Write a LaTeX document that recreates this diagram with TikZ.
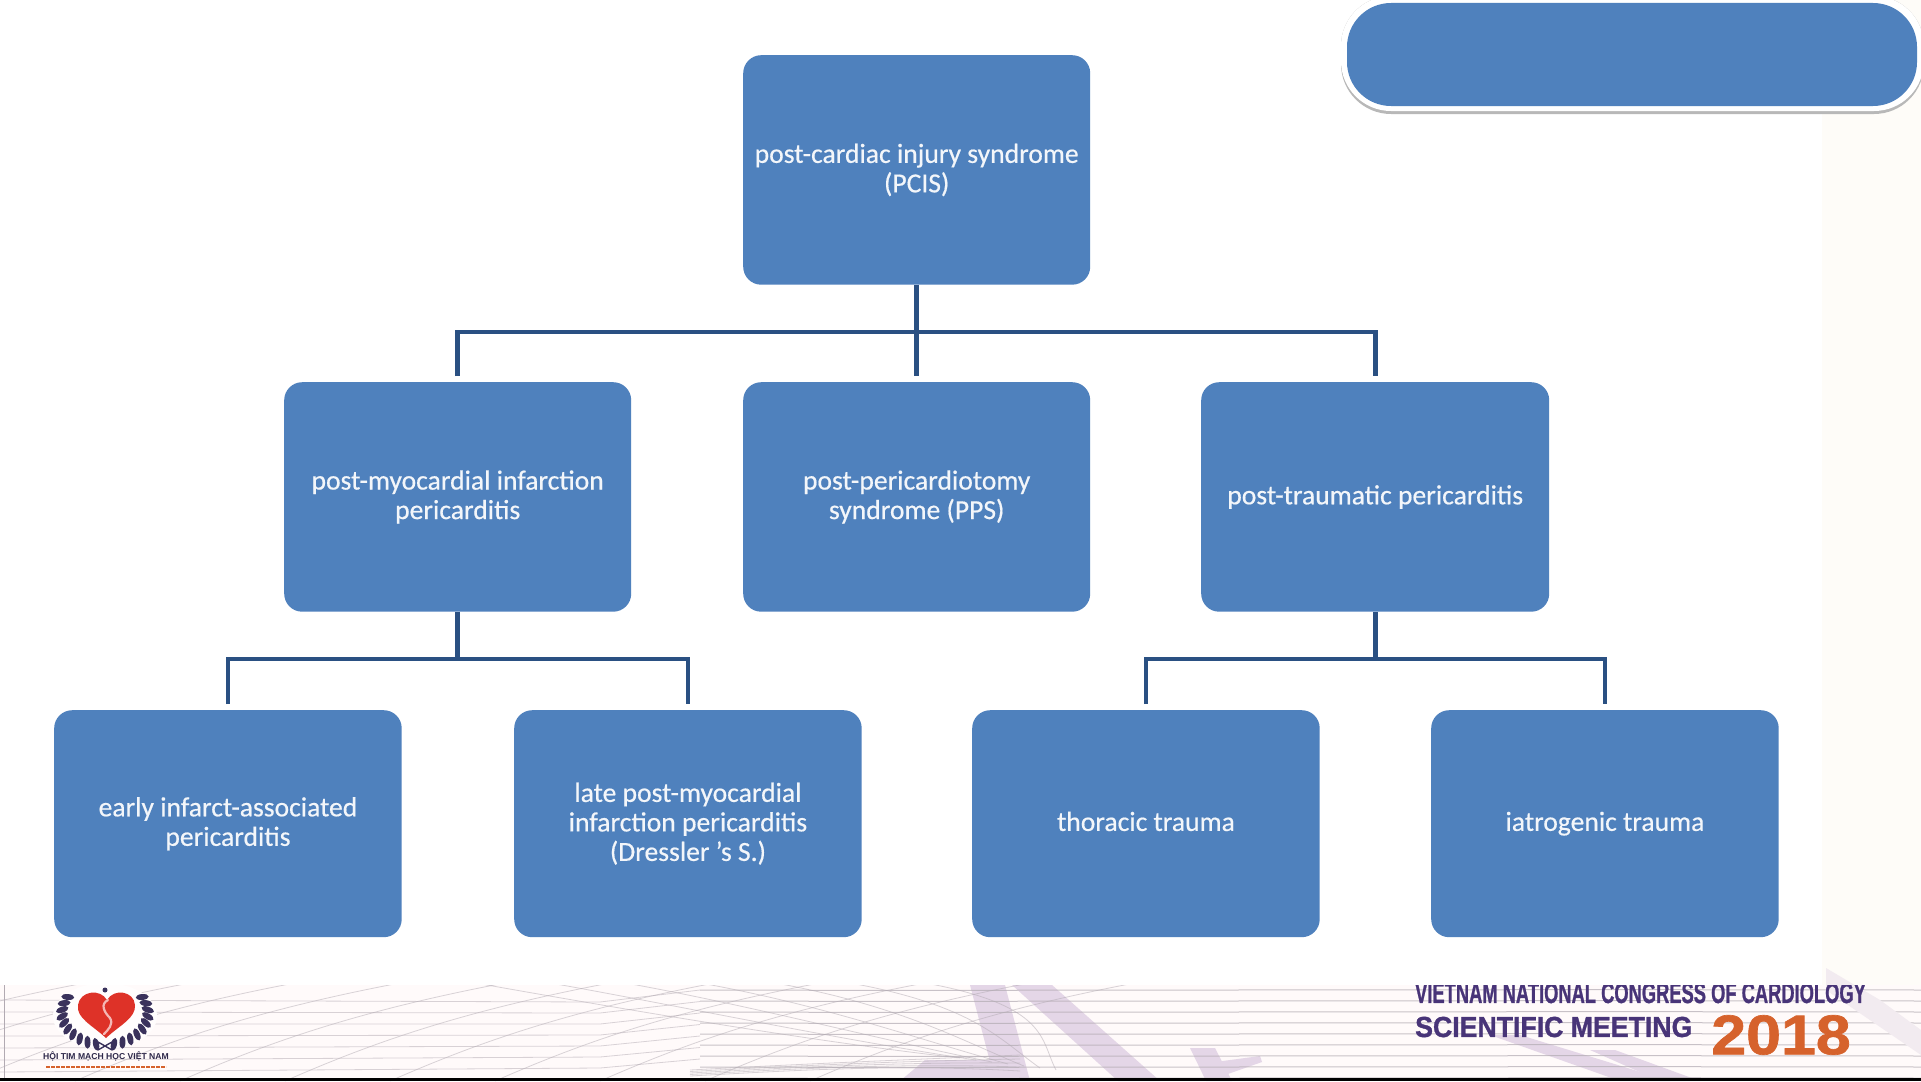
\documentclass[tikz,border=0pt]{standalone}
\usepackage{fontspec}
\setmainfont{Carlito}[FakeBold=0.5]
\newfontfamily\footfont{Liberation Sans}[FakeBold=1.2]
\newfontfamily\tinyfont{Liberation Sans}
\definecolor{boxblue}{RGB}{79,129,189}
\definecolor{linkblue}{RGB}{42,80,130}
\definecolor{cream}{RGB}{254,252,248}
\definecolor{band}{RGB}{255,250,250}
\definecolor{wave}{RGB}{178,170,178}
\definecolor{wedge}{RGB}{228,214,231}
\definecolor{footpurple}{RGB}{72,52,120}
\definecolor{footorange}{RGB}{214,98,44}
\definecolor{heart}{RGB}{222,50,40}
\definecolor{laurel}{RGB}{58,50,92}
\tikzset{
  box/.style={fill=boxblue,rounded corners=18pt,text=white!93!boxblue,align=center,font=\fontsize{27.6}{29.5}\selectfont,inner sep=0pt,anchor=north west},
  rowone/.style={box,minimum width=347pt,minimum height=229.5pt},
  rowtwo/.style={box,minimum width=347.5pt,minimum height=227pt},
  link/.style={draw=linkblue,line width=4.6pt,line cap=butt},
  waveline/.style={draw=wave,line width=1pt,opacity=.7},
  faintline/.style={draw=wave,line width=.8pt,opacity=.5},
  leaf/.style={fill=laurel},
}
\begin{document}
\begin{tikzpicture}[x=1pt,y=-1pt]
\useasboundingbox (0,0) rectangle (1921,1081);
\fill[white] (0,0) rectangle (1921,1081);
\fill[cream] (1822,0) rectangle (1921,1081);
% footer band
\begin{scope}
\clip (0,985) rectangle (1921,1081);
\fill[band] (0,985) rectangle (1921,1081);
\fill[wedge] (970,985) -- (1005,985) -- (1030,1081) -- (995,1081) -- cycle;
\fill[wedge] (1012,985) -- (1052,985) -- (1160,1081) -- (1118,1081) -- cycle;
\fill[wedge] (1190,1048) -- (1215,1048) -- (1232,1081) -- (1206,1081) -- cycle;
\fill[wedge] (1215,1062) -- (1260,1056) -- (1262,1062) -- (1225,1075) -- cycle;
\fill[wedge] (900,1081) -- (925,1060) -- (1000,1060) -- (1030,1081) -- cycle;
\fill[wedge] (1490,1035) -- (1520,1035) -- (1670,1081) -- (1620,1081) -- cycle;
\fill[wedge] (1590,1050) -- (1615,1050) -- (1700,1081) -- (1660,1081) -- cycle;
\foreach \i in {0,...,8}{
  \draw[waveline] (700,{990+\i*11}) .. controls (1000,{991+\i*11}) and (1400,{989+\i*11}) .. (1921,{990+\i*11});
}
\foreach \i in {0,...,6}{
  \draw[faintline] (0,{1000+\i*12}) -- (600,{1002+\i*11}) -- (700,{990+\i*11.5});
}
\foreach \i in {-2,...,8}{
  \draw[faintline] ({\i*105-30},1081) .. controls ({\i*105+50},1046) and ({\i*105+140},1012) .. ({\i*105+300},982);
}
\foreach \i in {0,...,6}{
  \draw[faintline] ({\i*75+470},982) .. controls ({\i*75+600},1005) and ({\i*40+800},1040) .. ({\i*16+960},{1058+\i*2});
}
\foreach \i in {0,...,4}{
  \draw[faintline] (690,{1070+\i*1.5}) .. controls (800,{1064+\i*1.5}) and (900,{1060+\i}) .. (1020,{1055+\i*4});
}
\draw[wave,line width=1pt] (4,985) -- (4,1081);
\end{scope}
\fill[cream!55!wedge] (1826,968) -- (1880,1000) -- (1921,1030) -- (1921,1055) -- (1826,990) -- cycle;
% logo
\begin{scope}
\clip (0,985) rectangle (400,1081);
\fill[white!70!band] (105,1016) ellipse (52pt and 33pt);
\foreach \a in {150,162,...,258}{
  \fill[leaf,rotate around={\a+25:({105+43*cos(\a)},{1013-32*sin(\a)})}] ({105+43*cos(\a)},{1013-32*sin(\a)}) ellipse (6.5pt and 3pt);
  \fill[leaf,rotate around={-\a-25:({105-43*cos(\a)},{1013-32*sin(\a)})}] ({105-43*cos(\a)},{1013-32*sin(\a)}) ellipse (6.5pt and 3pt);
}
\fill[heart] (106,1038) .. controls (92,1025) and (76,1018) .. (78,1005) .. controls (80,991) and (100,988) .. (107,1000) .. controls (114,988) and (134,991) .. (135,1005) .. controls (136,1018) and (120,1025) .. (106,1038) -- cycle;
\draw[heart!35!white,line width=2.2pt,line cap=round] (108,1000) .. controls (100,1004) and (104,1012) .. (110,1018) .. controls (114,1024) and (108,1030) .. (104,1034);
\fill[laurel] (105,990) circle (2.5pt);
\draw[laurel,line width=1.4pt] (98,1050) -- (112,1042) (98,1042) -- (112,1050);
\end{scope}
\node[font=\tinyfont\bfseries\fontsize{8.6}{9}\selectfont,text=laurel!80!black,inner sep=0pt] (logoname) at (106,1056) {HỘI TIM MẠCH HỌC VIỆT NAM};
\draw[footorange,line width=2pt,dash pattern=on 4pt off 1pt] (46,1067) -- (166,1067);
% footer text
\begin{scope}
\clip (1321,985) rectangle (1921,1081);
\node[font=\footfont\bfseries\fontsize{29}{30}\selectfont,text=footpurple,inner sep=0pt,anchor=west,xscale=.632] (congress) at (1415,993) {VIETNAM NATIONAL CONGRESS OF CARDIOLOGY};
\end{scope}
\node[font=\footfont\bfseries\fontsize{29}{30}\selectfont,text=footpurple,inner sep=0pt,anchor=west,xscale=.92] (meeting) at (1415,1027) {SCIENTIFIC MEETING};
\node[font=\footfont\bfseries\fontsize{56}{58}\selectfont,text=footorange,inner sep=0pt,anchor=west,xscale=1.12] (year) at (1711,1035) {2018};
\fill[black] (0,1078) rectangle (1921,1081);
% pill
\fill[black!28,rounded corners=50pt] (1341,-4) rectangle (1924,114);
\fill[white,rounded corners=50pt] (1341,-4) rectangle (1924,111);
\fill[boxblue,rounded corners=44pt] (1347,3) rectangle (1917,106);
% boxes
\node[rowone] (pcis) at (743,55) {post-cardiac injury syndrome\\(PCIS)};
\node[rowone] (pmi) at (284,382) {post-myocardial infarction\\pericarditis};
\node[rowone] (pps) at (743,382) {post-pericardiotomy\\syndrome (PPS)};
\node[rowone,minimum width=348pt] (ptp) at (1201,382) {post-traumatic pericarditis};
\node[rowtwo] (early) at (54,710) {early infarct-associated\\pericarditis};
\node[rowtwo] (late) at (514,710) {late post-myocardial\\infarction pericarditis\\(Dressler 's S.)};
\node[rowtwo] (thor) at (972,710) {\vphantom{g}thoracic trauma};
\node[rowtwo] (iat) at (1431,710) {iatrogenic trauma};
% connectors
\draw[link] (pcis.south) -- ([yshift=6pt]pps.north);
\draw[link] ([yshift=6pt]pmi.north) |- (916.5,332) -| ([yshift=6pt]ptp.north);
\draw[link] (pmi.south) -- ++(0,48);
\draw[link] ([yshift=6pt]early.north) |- (458,659) -| ([yshift=6pt]late.north);
\draw[link] (ptp.south) -- ++(0,48);
\draw[link] ([yshift=6pt]thor.north) |- (1375,659) -| ([yshift=6pt]iat.north);
\end{tikzpicture}
\end{document}
